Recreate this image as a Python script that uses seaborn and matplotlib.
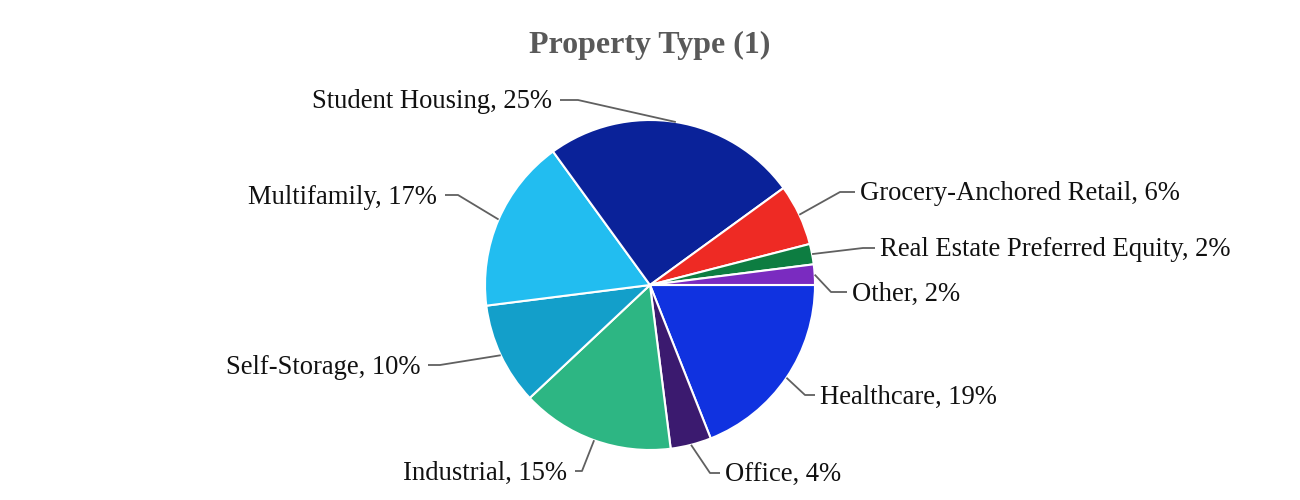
import numpy as np
import matplotlib
matplotlib.use("Agg")
from matplotlib import pyplot as plt
import seaborn as sns

# slices in clockwise order starting at 3 o'clock
categories = ["Healthcare", "Office", "Industrial", "Self-Storage", "Multifamily",
              "Student Housing", "Grocery-Anchored Retail", "Real Estate Preferred Equity", "Other"]
shares = [19, 4, 15, 10, 17, 25, 6, 2, 2]
hex_colors = ["#1032e0", "#3b1a6f", "#2db683", "#139fca", "#22bdf0",
              "#0a2299", "#ee2a24", "#0d7d41", "#7a2bc0"]

# label layout (pixel coords of label text anchor, side of pie, horizontal connector length)
label_pos = [(820, 395, "left", 10), (725, 473, "left", 10), (567, 471, "right", 7),
             (420, 365, "right", 12), (437, 195, "right", 13), (552, 100, "right", 18),
             (860, 192, "left", 15), (880, 248, "left", 12), (852, 292, "left", 16)]

sns.set_theme(style="white")
plt.rcParams["font.family"] = ["Liberation Serif", "DejaVu Serif"]
palette = sns.color_palette(hex_colors)

fig = plt.figure(figsize=(13, 5), dpi=100)
ax = fig.add_axes([0, 0, 1, 1])

cx, cy, r = 650, 285, 165
wedges, _ = ax.pie(shares, colors=palette, startangle=0, counterclock=True,
                   center=(cx, cy), radius=r, frame=True,
                   wedgeprops=dict(edgecolor="white", linewidth=1.5))
ax.set_xlim(0, 1300)
ax.set_ylim(500, 0)
ax.set_aspect("equal")
ax.axis("off")

for w, name, pct, (tx, ty, side, seg) in zip(wedges, categories, shares, label_pos):
    mid = np.deg2rad((w.theta1 + w.theta2) / 2)
    px = cx + r * np.cos(mid)
    py = cy + r * np.sin(mid)
    if side == "left":
        ex = tx - 5
        elbow = ex - seg
    else:
        ex = tx + 8
        elbow = ex + seg
    ax.plot([px, elbow, ex], [py, ty, ty], color="#606060", lw=1.3,
            solid_capstyle="butt", zorder=1)
    ax.text(tx, ty + 2, f"{name}, {pct}%", ha=side, va="center",
            fontsize=19.2, color="#111111")

ax.text(650, 45, "Property Type (1)", ha="center", va="center",
        fontsize=23, fontweight="bold", color="#595959")

fig.savefig("out.png", dpi=100)
